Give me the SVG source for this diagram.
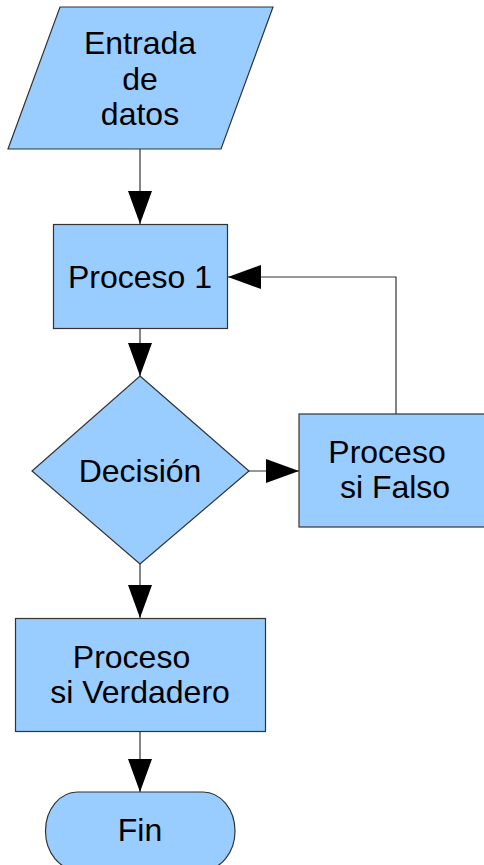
<svg xmlns="http://www.w3.org/2000/svg" width="484" height="865" viewBox="0 0 484 865">
  <style>
    .shape { fill: #99ccff; stroke: #333333; stroke-width: 1.2; }
    .label { font-family: "Liberation Sans", Arial, sans-serif; font-size: 32px; fill: #000000; text-anchor: middle; }
    .conn { fill: none; stroke: #333333; stroke-width: 1.2; }
  </style>
  <defs>
    <marker id="arrow" markerUnits="userSpaceOnUse" markerWidth="34" markerHeight="26" refX="33" refY="12" orient="auto">
      <path d="M0,0 L33,12 L0,24 Z" fill="#000000"/>
    </marker>
  </defs>
  <rect width="484" height="865" fill="#ffffff"/>

  <g id="connectors">
    <path class="conn" d="M140,149 V224" marker-end="url(#arrow)"/>
    <path class="conn" d="M140,329 V376" marker-end="url(#arrow)"/>
    <path class="conn" d="M249,471 H299" marker-end="url(#arrow)"/>
    <path class="conn" d="M396,414 V277 H228" marker-end="url(#arrow)"/>
    <path class="conn" d="M140,564 V618" marker-end="url(#arrow)"/>
    <path class="conn" d="M140,731 V792" marker-end="url(#arrow)"/>
  </g>

  <g id="entrada">
    <polygon class="shape" points="60,7 273,7 221,149 8,149"/>
    <text class="label" x="140" y="54">Entrada</text>
    <text class="label" x="140" y="90">de</text>
    <text class="label" x="140" y="125">datos</text>
  </g>

  <g id="proceso1">
    <rect class="shape" x="53.5" y="224.5" width="174" height="104"/>
    <text class="label" x="140" y="288">Proceso 1</text>
  </g>

  <g id="decision">
    <polygon class="shape" points="140,376 249,471 140,564 32,471"/>
    <text class="label" x="140" y="482">Decisión</text>
  </g>

  <g id="proceso-falso">
    <rect class="shape" x="299" y="414" width="192" height="113"/>
    <text class="label" x="387" y="463">Proceso</text>
    <text class="label" x="395" y="498">si Falso</text>
  </g>

  <g id="proceso-verdadero">
    <rect class="shape" x="15.5" y="618.5" width="250" height="113"/>
    <text class="label" x="131.5" y="668">Proceso</text>
    <text class="label" x="140" y="703">si Verdadero</text>
  </g>

  <g id="fin">
    <rect class="shape" x="45.5" y="792" width="189.5" height="78" rx="32" ry="39"/>
    <text class="label" x="140" y="841">Fin</text>
  </g>
</svg>
